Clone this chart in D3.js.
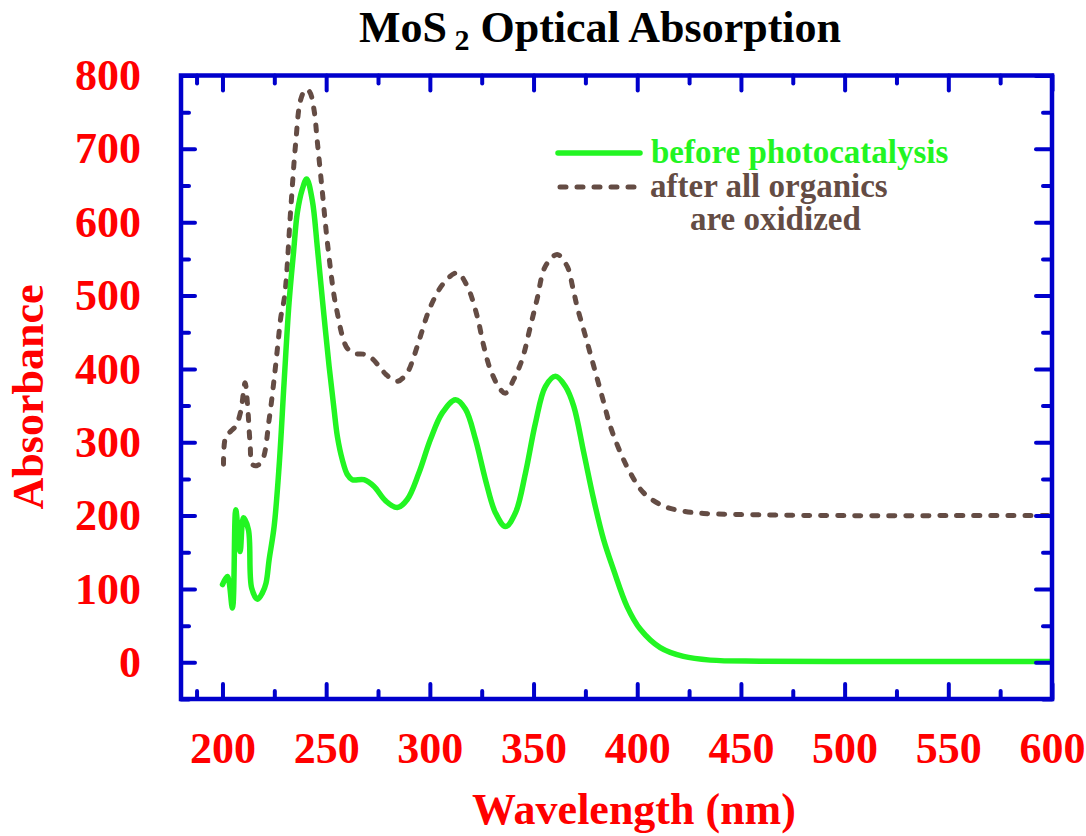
<!DOCTYPE html>
<html>
<head>
<meta charset="utf-8">
<script src="https://cdn.jsdelivr.net/npm/d3@7"></script>
<style>
  html, body { margin: 0; padding: 0; background: #fff; }
  svg { display: block; }
  text { font-family: "Liberation Serif", "Times New Roman", serif; font-weight: bold; }
</style>
</head>
<body>
<svg id="chart" width="1086" height="836"></svg>
<script>
// Absorption spectra of MoS2 — wavelength (nm) and absorbance
const beforeWavelength = [200, 202.4, 204.8, 206.4, 208.5, 210.1, 212.5, 214.1, 216.9, 219.3, 221, 222.5, 224.9, 227.3, 229.7, 232.1, 234.3, 236.1, 238.5, 240.6, 243.3, 245.7, 248.2, 251.4, 253.8, 255.4, 257.8, 260.2, 262.6, 268.2, 273, 278.7, 284.3, 289.1, 294.7, 300.3, 306, 312.4, 317.2, 322, 326.8, 331.6, 336.5, 341.3, 346.1, 350.9, 355.7, 360.6, 365.4, 369.4, 374.2, 379, 383.8, 388.6, 395.1, 401.5, 411.1, 422.3, 435.2, 459.3, 500, 550, 600];
const beforeAbsorbance = [106, 117, 74, 208, 151, 197, 181, 101, 86, 95, 108, 140, 185, 267, 381, 490, 560, 613, 645, 659, 630, 567, 494, 404, 345, 308, 276, 256, 249, 249, 240, 220, 211, 222, 258, 304, 340, 358, 345, 304, 249, 204, 185, 204, 258, 326, 376, 390, 376, 349, 286, 222, 167, 126, 76, 45, 20, 8, 3, 1.5, 1, 1, 1];

const afterWavelength = [200.5, 201.6, 204, 206.4, 208.8, 210.9, 212, 213.3, 214.4, 216.5, 219.3, 222.5, 224.9, 226.8, 228.1, 230, 232.9, 235.3, 237.7, 240.1, 242, 244.1, 245.8, 248.2, 250.6, 253.8, 255.4, 257.8, 260.2, 264, 268.2, 271.4, 276.3, 279, 284.3, 289.1, 292.3, 295.5, 300.3, 306.7, 313.2, 318, 322.8, 326, 329.2, 334, 336.5, 340.5, 344.5, 348.5, 351.7, 355.7, 361.4, 366.2, 369, 371, 375, 379, 383, 387, 391.9, 396.7, 403.1, 412.7, 422.3, 432, 459.3, 500, 550, 600];
const afterAbsorbance = [270, 308, 315, 322, 342, 381, 354, 299, 270, 268, 276, 331, 386, 436, 470, 500, 617, 708, 767, 781, 778, 754, 708, 640, 572, 500, 476, 445, 428, 421, 420, 416, 401, 392, 383, 395, 417, 445, 485, 517, 531, 513, 472, 431, 399, 372, 367, 386, 413, 458, 495, 540, 556, 540, 510, 485, 445, 404, 363, 322, 286, 258, 231, 213, 206, 203, 201, 200, 200, 200];

const xMajorTicks = [200, 250, 300, 350, 400, 450, 500, 550, 600];
const xMinorTicks = [187.5, 225, 275, 325, 375, 425, 475, 525, 575];
const yMajorTicks = [0, 100, 200, 300, 400, 500, 600, 700, 800];
const yMinorTicks = [-50, 50, 150, 250, 350, 450, 550, 650, 750];

const seriesNames = ["before photocatalysis", "after all organics", "are oxidized"];

const svg = d3.select("#chart");
const plotLeft = 181, plotRight = 1052, plotTop = 75.5, plotBottom = 699;

const x = d3.scaleLinear().domain([180, 600]).range([plotLeft, plotRight]);
const y = d3.scaleLinear().domain([-50, 800]).range([plotBottom, plotTop]);

const AXIS = "#0000cc", RED = "#ff0000", GREEN = "#22f522", BROWN = "#644c44";
const DASH = "6,11";

// clip for the curves
svg.append("clipPath").attr("id", "plot-clip")
  .append("rect").attr("x", plotLeft).attr("y", plotTop)
  .attr("width", plotRight - plotLeft).attr("height", plotBottom - plotTop);

const line = d3.line().x(d => x(d[0])).y(d => y(d[1])).curve(d3.curveCatmullRom.alpha(0.5));

const curves = svg.append("g").attr("clip-path", "url(#plot-clip)");
curves.append("path")
  .attr("d", line(afterWavelength.map((w, i) => [w, afterAbsorbance[i]])))
  .attr("fill", "none").attr("stroke", BROWN).attr("stroke-width", 5)
  .attr("stroke-dasharray", DASH).attr("stroke-linecap", "round");
curves.append("path")
  .attr("d", line(beforeWavelength.map((w, i) => [w, beforeAbsorbance[i]])))
  .attr("fill", "none").attr("stroke", GREEN).attr("stroke-width", 5.5)
  .attr("stroke-linejoin", "round").attr("stroke-linecap", "round");

// inward ticks on all four sides
function styleAxis(g) {
  g.select(".domain").remove();
  g.selectAll(".tick line").attr("stroke", AXIS).attr("stroke-width", 4).attr("stroke-linecap", "round");
  g.selectAll(".tick text").attr("fill", RED).style("font-size", "44px")
    .style("font-family", '"Liberation Serif", "Times New Roman", serif').style("font-weight", "bold");
}

svg.append("g").attr("transform", `translate(0,${plotBottom})`)
  .call(d3.axisBottom(x).tickValues(xMajorTicks).tickSize(-15).tickPadding(33)).call(styleAxis);
svg.append("g").attr("transform", `translate(0,${plotBottom})`)
  .call(d3.axisBottom(x).tickValues(xMinorTicks).tickSize(-8).tickFormat("")).call(styleAxis);
svg.append("g").attr("transform", `translate(0,${plotTop})`)
  .call(d3.axisTop(x).tickValues(xMajorTicks).tickSize(-15).tickFormat("")).call(styleAxis);
svg.append("g").attr("transform", `translate(0,${plotTop})`)
  .call(d3.axisTop(x).tickValues(xMinorTicks).tickSize(-8).tickFormat("")).call(styleAxis);

svg.append("g").attr("transform", `translate(${plotLeft},0)`)
  .call(d3.axisLeft(y).tickValues(yMajorTicks).tickSize(-14).tickPadding(40)).call(styleAxis);
svg.append("g").attr("transform", `translate(${plotLeft},0)`)
  .call(d3.axisLeft(y).tickValues(yMinorTicks).tickSize(-8).tickFormat("")).call(styleAxis);
svg.append("g").attr("transform", `translate(${plotRight},0)`)
  .call(d3.axisRight(y).tickValues(yMajorTicks).tickSize(-16).tickFormat("")).call(styleAxis);
svg.append("g").attr("transform", `translate(${plotRight},0)`)
  .call(d3.axisRight(y).tickValues(yMinorTicks).tickSize(-9).tickFormat("")).call(styleAxis);

// frame
svg.append("rect")
  .attr("x", plotLeft).attr("y", plotTop)
  .attr("width", plotRight - plotLeft).attr("height", plotBottom - plotTop)
  .attr("fill", "none").attr("stroke", AXIS).attr("stroke-width", 4.5);

// title
const title = svg.append("text").attr("x", 600).attr("y", 42)
  .attr("text-anchor", "middle").attr("fill", "#000").style("font-size", "44px");
title.append("tspan").text("MoS");
title.append("tspan").attr("dy", 8).style("font-size", "30px").text(" 2");
title.append("tspan").attr("dy", -8).text(" Optical Absorption");

// axis titles
svg.append("text").attr("x", 634).attr("y", 824).attr("text-anchor", "middle")
  .attr("fill", RED).style("font-size", "44px").text("Wavelength (nm)");
svg.append("text").attr("transform", "translate(43,397) rotate(-90)").attr("text-anchor", "middle")
  .attr("fill", RED).style("font-size", "44px").text("Absorbance");

// legend
const legend = svg.append("g");
legend.append("line").attr("x1", 558).attr("x2", 640).attr("y1", 153).attr("y2", 153)
  .attr("stroke", GREEN).attr("stroke-width", 5.5).attr("stroke-linecap", "round");
legend.append("text").attr("x", 651).attr("y", 163).attr("fill", GREEN)
  .style("font-size", "33px").text(seriesNames[0]);
legend.append("line").attr("x1", 560).attr("x2", 642).attr("y1", 187).attr("y2", 187)
  .attr("stroke", BROWN).attr("stroke-width", 5).attr("stroke-dasharray", DASH).attr("stroke-linecap", "round");
legend.append("text").attr("x", 650).attr("y", 197).attr("fill", BROWN)
  .style("font-size", "33px").text(seriesNames[1]);
legend.append("text").attr("x", 690).attr("y", 230).attr("fill", BROWN)
  .style("font-size", "33px").text(seriesNames[2]);
</script>
</body>
</html>
